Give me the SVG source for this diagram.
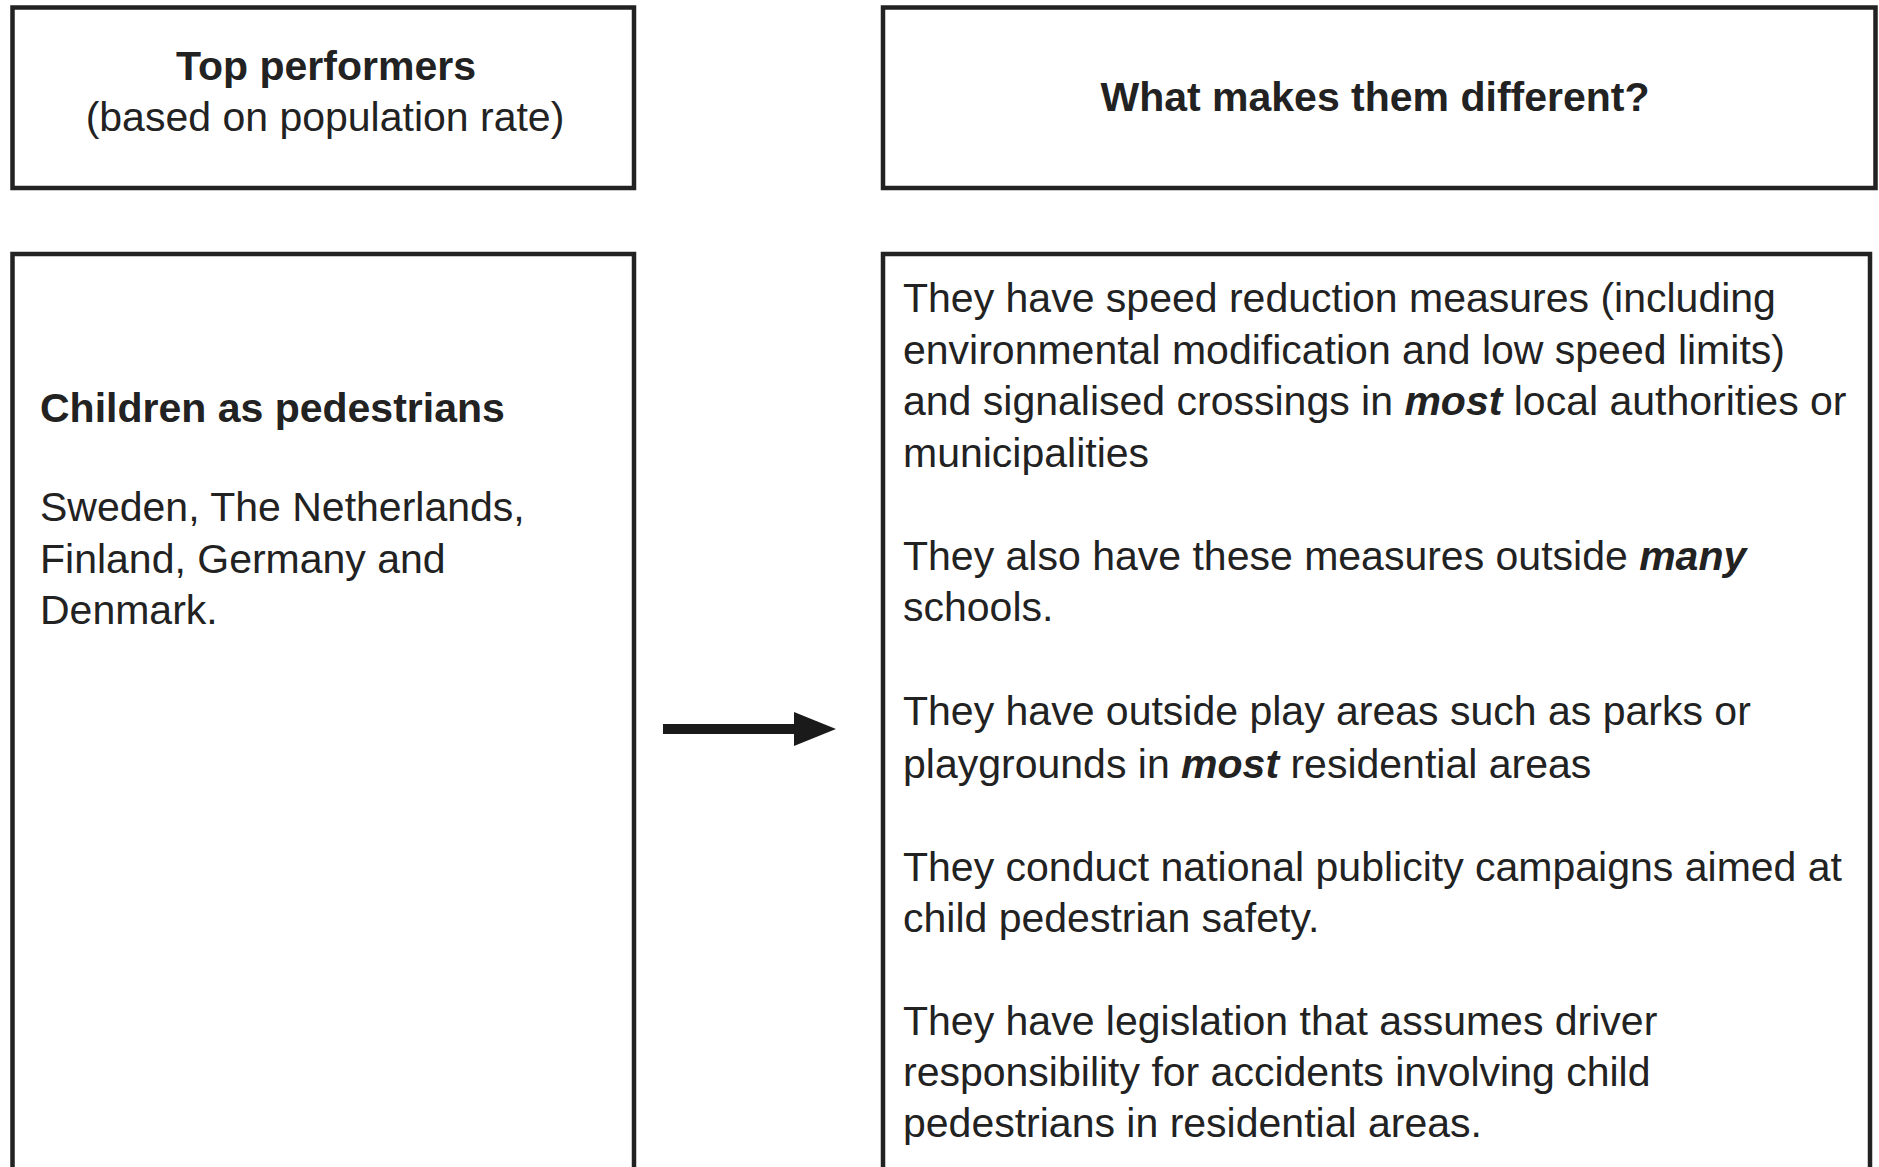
<svg xmlns="http://www.w3.org/2000/svg" width="1879" height="1167" viewBox="0 0 1879 1167">
<style>
.box{fill:#fff;stroke:#222;stroke-width:4.5}
.t{font-family:"Liberation Sans",Arial,sans-serif;font-size:41px;fill:#222}
.b{font-weight:bold}
.bi{font-weight:bold;font-style:italic}
.c{text-anchor:middle}
</style>
<defs>
<marker id="ah" markerUnits="userSpaceOnUse" markerWidth="44" markerHeight="36" refX="0" refY="17" orient="auto">
<polygon points="0,0 42,17 0,34" fill="#1a1a1a"/>
</marker>
</defs>
<rect width="1879" height="1167" fill="#fff"/>
<g id="top-performers">
<rect class="box" x="12.5" y="7.5" width="621.5" height="180.5"/>
<text class="t b c" x="326" y="80">Top performers</text>
<text class="t c" x="325" y="131">(based on population rate)</text>
</g>
<g id="what-makes">
<rect class="box" x="883" y="7.5" width="992.5" height="180.5"/>
<text class="t b c" x="1375" y="111">What makes them different?</text>
</g>
<g id="children">
<rect class="box" x="12.5" y="254" width="621.5" height="930"/>
<text class="t b" x="40" y="422">Children as pedestrians</text>
<text class="t" x="40" y="521">Sweden, The Netherlands,</text>
<text class="t" x="40" y="573">Finland, Germany and</text>
<text class="t" x="40" y="624">Denmark.</text>
</g>
<g id="differences">
<rect class="box" x="883" y="254" width="987" height="930"/>
<text class="t" x="903" y="312">They have speed reduction measures (including</text>
<text class="t" x="903" y="364">environmental modification and low speed limits)</text>
<text class="t" x="903" y="415">and signalised crossings in <tspan class="bi">most</tspan> local authorities or</text>
<text class="t" x="903" y="467">municipalities</text>
<text class="t" x="903" y="570">They also have these measures outside <tspan class="bi">many</tspan></text>
<text class="t" x="903" y="621">schools.</text>
<text class="t" x="903" y="725">They have outside play areas such as parks or</text>
<text class="t" x="903" y="778">playgrounds in <tspan class="bi">most</tspan> residential areas</text>
<text class="t" x="903" y="881">They conduct national publicity campaigns aimed at</text>
<text class="t" x="903" y="932">child pedestrian safety.</text>
<text class="t" x="903" y="1035">They have legislation that assumes driver</text>
<text class="t" x="903" y="1086">responsibility for accidents involving child</text>
<text class="t" x="903" y="1137">pedestrians in residential areas.</text>
</g>
<g id="connectors">
<line x1="663" y1="729" x2="794" y2="729" stroke="#1a1a1a" stroke-width="10" marker-end="url(#ah)"/>
</g>
</svg>
